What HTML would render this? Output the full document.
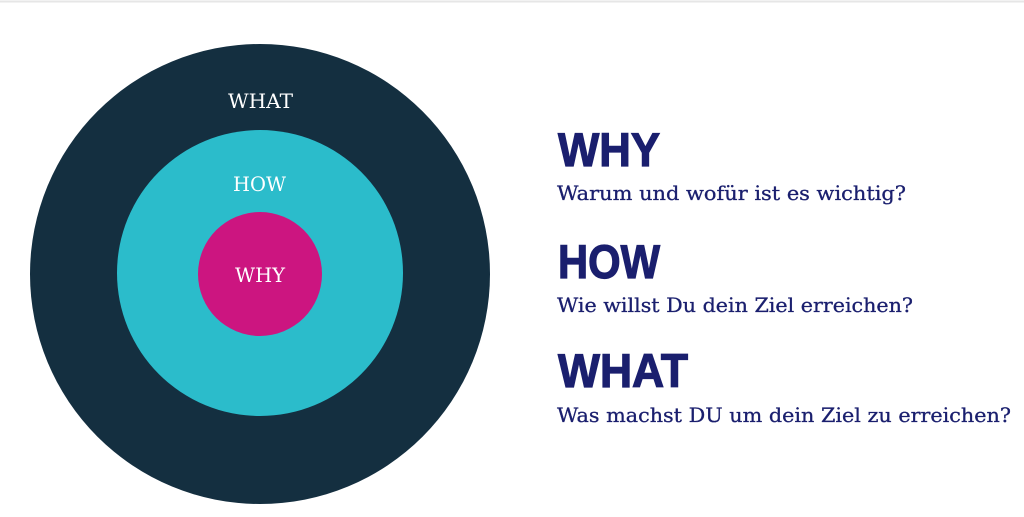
<!DOCTYPE html>
<html><head><meta charset="utf-8"><style>
html,body{margin:0;padding:0;background:#fff;}
svg{display:block;}
</style></head><body>
<svg width="1024" height="517" viewBox="0 0 1024 517" xmlns="http://www.w3.org/2000/svg">
<rect x="0" y="0" width="1024" height="517" fill="#fff"/>
<line x1="0" y1="1.5" x2="1024" y2="1.5" stroke="#e6e6e6" stroke-width="2"/>
<circle cx="260" cy="274" r="230" fill="#142f40"/>
<circle cx="260" cy="273" r="143" fill="#2bbccb"/>
<circle cx="260" cy="274" r="62" fill="#cc1580"/>
<g font-family="'DejaVu Serif','Liberation Serif',serif" fill="#fff" font-size="20">
<text x="228" y="108" textLength="65" lengthAdjust="spacingAndGlyphs">WHAT</text>
<text x="233" y="191" textLength="53" lengthAdjust="spacingAndGlyphs">HOW</text>
<text x="235" y="282" textLength="50" lengthAdjust="spacingAndGlyphs">WHY</text>
</g>
<g font-family="'Liberation Sans',sans-serif" font-weight="bold" fill="#1a1f6e" stroke="#1a1f6e" stroke-width="1.2" font-size="47">
<text x="558" y="166" textLength="102" lengthAdjust="spacingAndGlyphs">WHY</text>
<text x="558" y="278" textLength="102" lengthAdjust="spacingAndGlyphs">HOW</text>
<text x="558" y="387" textLength="130" lengthAdjust="spacingAndGlyphs">WHAT</text>
</g>
<g font-family="'DejaVu Serif','Liberation Serif',serif" fill="#1a1f6e" stroke="#1a1f6e" stroke-width="0.3" font-size="20">
<text x="557" y="200" textLength="349" lengthAdjust="spacingAndGlyphs">Warum und wofür ist es wichtig?</text>
<text x="557" y="312" textLength="356" lengthAdjust="spacingAndGlyphs">Wie willst Du dein Ziel erreichen?</text>
<text x="557" y="422" textLength="454" lengthAdjust="spacingAndGlyphs">Was machst DU um dein Ziel zu erreichen?</text>
</g>
</svg>
</body></html>
